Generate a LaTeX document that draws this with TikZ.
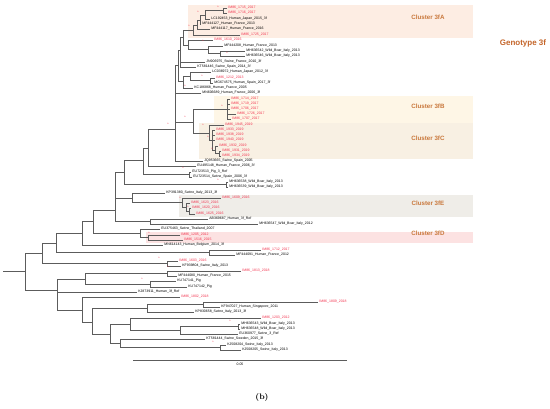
\documentclass[tikz,border=0pt]{standalone}
\usepackage{fontspec}
\setsansfont{Liberation Sans}
\usepackage{tikz}
\definecolor{branchgray}{HTML}{5C5C5C}
\definecolor{isored}{HTML}{F2344F}
\definecolor{clustxt}{HTML}{C9783C}
\definecolor{genotxt}{HTML}{C4652A}
\definecolor{boxA}{HTML}{FDEDE3}
\definecolor{boxB}{HTML}{FEF6E6}
\definecolor{boxC}{HTML}{F8F0E3}
\definecolor{boxE}{HTML}{EFEDE8}
\definecolor{boxD}{HTML}{FCE2E2}
\tikzset{
    branch/.style={draw=branchgray, line width=0.6pt},
    leaf/.style={anchor=west, inner sep=1.2pt, font=\sffamily\fontsize{3.5}{4}\selectfont, text=black},
    isolate/.style={leaf, text=isored},
    boot/.style={inner sep=0pt, text=isored, font=\sffamily\fontsize{3.5}{4}\selectfont},
    clusterlabel/.style={inner sep=0pt, text=clustxt, font=\sffamily\bfseries\fontsize{6.2}{7}\selectfont},
}

\begin{document}
\begin{tikzpicture}[x=1pt,y=-1pt]
\useasboundingbox (0,0) rectangle (550,408);

\fill[boxA] (188,5) rectangle (473,37.5);
\fill[boxB] (214,96) rectangle (473,123);
\fill[boxC] (199,123) rectangle (473,158.5);
\fill[boxE] (179,195) rectangle (473,216.5);
\fill[boxD] (146,232) rectangle (473,243);

\node[clusterlabel] (lab3fA) at (428,17) {Cluster 3fA};
\node[clusterlabel] (lab3fB) at (428,106) {Cluster 3fB};
\node[clusterlabel] (lab3fC) at (428,138) {Cluster 3fC};
\node[clusterlabel] (lab3fE) at (428,203) {Cluster 3fE};
\node[clusterlabel] (lab3fD) at (428,233) {Cluster 3fD};
\node[inner sep=0pt, text=genotxt, font=\sffamily\bfseries\fontsize{8}{9}\selectfont] (geno) at (523,43) {Genotype 3f};

% inner nodes
\foreach \n/\x/\y in {R/25/271.5, U/42/253, U1/56/243, U2/82/233, U3/93/221, U4/115/210,
    U5/124/172, U6/143/160, T0/148/148, T1/175/129, T2/178/65, T2a/180/50, T3/183/37,
    A1/193/30, A2/197/25, A3/200/20, A4/205/15, A5/223/10.5, N1610/188/45, N208/208/49.7,
    NMH42/220/53.5, NLC2/183/81, NLC/190/76, N12/210/80.5, NBC/193/122, NB/227/109,
    NC/209/133, NC1/212/140, NC2/215/150, NC3/219/153.5, NEU/189/174.5, NMH38/226/184.5,
    NKP/132/198, NE/182/202.5, NE1/186/207, NE2/189/211, NAB/150/221.5, ND0/140/233,
    N3fD/148/237.5, N1712/209/252.5, N1603/167/263.5, L/57/290, L1/85/279, N813/167/273.5,
    NKU/150/284, L2/82/310, L3/92/322, N830/147/308, N809/203/304.5, L4/110/334,
    L5/130/324, N543b/180/330, N543/238/326.5, L6/120/343, N504/220/347.5}
  \coordinate (\n) at (\x,\y);
\coordinate (rootend) at (3,271.5);

\foreach \n/\x/\y/\t in {i1715/227/8/IM86\_1715\_2017, i1716/227/13/IM86\_1716\_2017,
    i1725/240/35/IM86\_1725\_2017, i1610/213/40/IM86\_1610\_2016, i1212/215/78/IM86\_1212\_2013,
    i1714/230/99/IM86\_1714\_2017, i1719/230/104/IM86\_1719\_2017, i1706/230/109/IM86\_1706\_2017,
    i1726/236/114/IM86\_1726\_2017, i1707/231/119/IM86\_1707\_2017, i1945/224/125/IM86\_1945\_2019,
    i1933/215/130/IM86\_1933\_2019, i1938/215/135/IM86\_1938\_2019, i1940/215/140/IM86\_1940\_2019,
    i1932/218/146/IM86\_1932\_2019, i1931/221/151/IM86\_1931\_2019, i1934/221/156/IM86\_1934\_2019,
    i1609/221/198/IM86\_1609\_2016, i1623/190/203/IM86\_1623\_2016, i1620/191/208/IM86\_1620\_2016,
    i1625/195/214/IM86\_1625\_2016, i1205/180/235/IM86\_1205\_2012, i1516/183/240/IM86\_1516\_2015,
    i1712/261/250/IM86\_1712\_2017, i1603/178/261/IM86\_1603\_2016, i1813/241/271/IM86\_1813\_2018,
    i1802/180/297/IM86\_1802\_2018, i1809/318/302/IM86\_1809\_2018, i1203/261/318/IM86\_1203\_2012}
  \node[isolate] (\n) at (\x,\y) {\t};

\foreach \n/\x/\y/\t in {LC192453/210/19/LC192453\_Human\_Japan\_2015\_3f,
    MF444127/201/24/MF444127\_Human\_France\_2013, MF444117/210/29/MF444117\_Human\_France\_2016,
    MF444208/223/46/MF444208\_Human\_France\_2013, MH636542/245/51/MH636542\_Wild\_Boar\_Italy\_2013,
    MH636546/245/56/MH636546\_Wild\_Boar\_Italy\_2013, JN906975/205/62/JN906975\_Swine\_France\_2010\_3f,
    KT581446/196/67/KT581446\_Swine\_Spain\_2014\_3f, LC036972/211/72/LC036972\_Human\_Japan\_2012\_3f,
    MG674575/213/83/MG674575\_Human\_Spain\_2017\_3f, KC186868/193/88/KC186868\_Human\_France\_2005,
    MN606689/201/93/MN606689\_Human\_France\_2006\_3f, JQ953665/203/161/JQ953665\_Swine\_Spain\_2005,
    EU495148/196/166/EU495148\_Human\_France\_2006\_3f, EU723513/191/172/EU723513\_Pig\_3\_Ref,
    EU723514/192/177/EU723514\_Swine\_Spain\_2006\_3f, MH636538/228/182/MH636538\_Wild\_Boar\_Italy\_2013,
    MH636539/228/187/MH636539\_Wild\_Boar\_Italy\_2013, KP391380/165/193/KP391380\_Swine\_Italy\_2013\_3f,
    AB369687/208/219/AB369687\_Human\_3f\_Ref, MH636547/258/224/MH636547\_Wild\_Boar\_Italy\_2012,
    EU375463/160/229/EU375463\_Swine\_Thailand\_2007, MN614143/163/245/MN614143\_Human\_Belgium\_2014\_3f,
    MF444091/235/255/MF444091\_Human\_France\_2012, KF939804/181/266/KF939804\_Swine\_Italy\_2013,
    MF444080/177/276/MF444080\_Human\_France\_2015, KU747141/176/281/KU747141\_Pig,
    KU747142/187/287/KU747142\_Pig, KJ873911/137/292/KJ873911\_Human\_3f\_Ref,
    KF947027/220/307/KF947027\_Human\_Singapore\_2011, KP830658/194/312/KP830658\_Swine\_Italy\_2013\_3f,
    MH636543/240/324/MH636543\_Wild\_Boar\_Italy\_2013, MH636548/240/329/MH636548\_Wild\_Boar\_Italy\_2013,
    EU360977/238/334/EU360977\_Swine\_3\_Ref, KT581444/205/339/KT581444\_Swine\_Sweden\_2015\_3f,
    KJ508204/226/345/KJ508204\_Swine\_Italy\_2013, KJ508205/241/350/KJ508205\_Swine\_Italy\_2013}
  \node[leaf] (\n) at (\x,\y) {\t};

\draw[branch] (rootend) -- (R);
\foreach \p/\c in {R/U, R/L, U/U1, U/N1603, U1/U2, U1/N1712, U2/U3, U2/MN614143, U3/U4, U3/ND0,
    U4/U5, U4/NKP, U4/NAB, U5/U6, U5/NMH38, U6/T0, U6/NEU, T0/T1, T0/EU495148,
    T1/T2, T1/MN606689, T1/NBC, T1/JQ953665, T2/T2a, T2/NLC2, T2a/T3, T2a/JN906975, T2a/KT581446,
    T3/A1, T3/N1610, A1/i1725, A1/A2, A2/MF444117, A2/A3, A3/MF444127, A3/A4, A4/LC192453, A4/A5,
    A5/i1715, A5/i1716, N1610/i1610, N1610/N208, N208/MF444208, N208/NMH42, NMH42/MH636542,
    NMH42/MH636546, NLC2/NLC, NLC2/KC186868, NLC/LC036972, NLC/N12, N12/i1212, N12/MG674575,
    NBC/NB, NBC/NC, NB/i1714, NB/i1719, NB/i1706, NB/i1726, NB/i1707,
    NC/i1945, NC/NC1, NC1/i1933, NC1/i1938, NC1/i1940, NC1/NC2, NC2/i1932, NC2/NC3,
    NC3/i1931, NC3/i1934, NEU/EU723513, NEU/EU723514, NMH38/MH636538, NMH38/MH636539,
    NKP/KP391380, NKP/NE, NE/i1609, NE/NE1, NE1/i1623, NE1/NE2, NE2/i1620, NE2/i1625,
    NAB/AB369687, NAB/MH636547, ND0/EU375463, ND0/N3fD, N3fD/i1205, N3fD/i1516,
    N1712/i1712, N1712/MF444091, N1603/i1603, N1603/KF939804,
    L/L1, L/KJ873911, L/L2, L1/N813, L1/NKU, N813/i1813, N813/MF444080, NKU/KU747141, NKU/KU747142,
    L2/i1802, L2/L3, L3/N830, L3/L4, N830/N809, N830/KP830658, N809/i1809, N809/KF947027,
    L4/L5, L4/L6, L5/i1203, L5/N543b, N543b/N543, N543b/EU360977, N543/MH636543, N543/MH636548,
    L6/KT581444, L6/N504, N504/KJ508204, N504/KJ508205}
  \draw[branch] (\p) |- (\c);

% bootstrap marks
\foreach \x/\y [count=\i] in {218/7, 198/12, 189/26, 203/41, 227/53, 202/76, 185/86, 222/106,
    185/117, 168/124, 203/125, 208/137, 212/149, 183/168, 218/180, 180/198, 188/207, 149/233,
    159/258, 168/267, 142/279, 230/321, 213/342}
  \node[boot] (bs\i) at (\x,\y) {*};

\coordinate (scaleL) at (133,360);
\coordinate (scaleR) at (347,360);
\draw[branch] (scaleL) -- (scaleR);
\node[inner sep=0pt, font=\sffamily\fontsize{3.5}{4}\selectfont] (scaletxt) at (240,364) {0.05};

\node[font=\bfseries\fontsize{8}{9}\selectfont] (caption) at (262,397) {(b)};
\end{tikzpicture}
\end{document}
